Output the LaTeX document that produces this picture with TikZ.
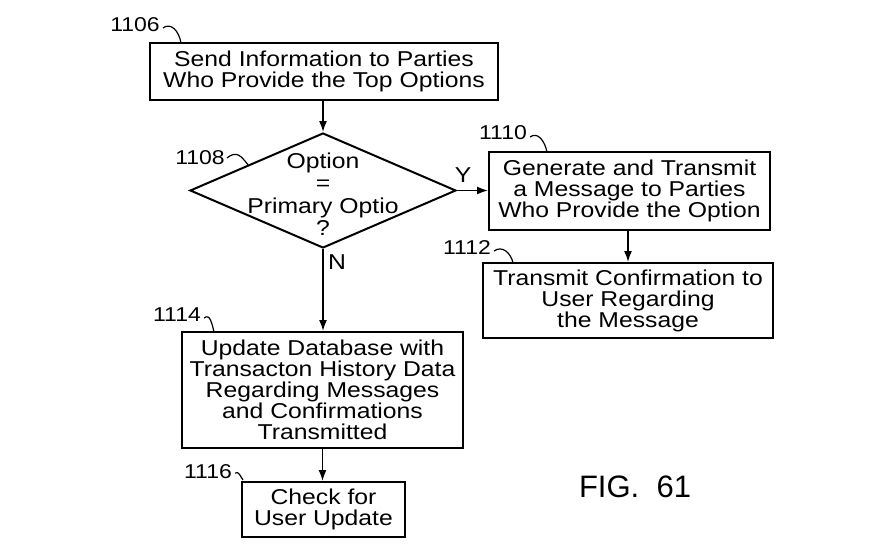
\documentclass[tikz,border=0pt]{standalone}
\usepackage{fontspec}
\setmainfont[FakeStretch=1.15]{Liberation Sans}
\newfontfamily\figfont{Liberation Sans}
\usetikzlibrary{shapes.geometric,arrows.meta,calc}
\begin{document}
\begin{tikzpicture}[x=1pt,y=-1pt,
  box/.style={draw,line width=2pt,inner sep=0pt,align=center,font=\fontsize{21.5}{21}\selectfont},
  decision/.style={draw,diamond,line width=2pt,inner sep=0pt,minimum width=266pt,minimum height=115pt},
  dtext/.style={align=center,inner sep=0pt,font=\fontsize{21.5}{22.5}\selectfont},
  num/.style={inner sep=0pt,font=\fontsize{20}{20}\selectfont},
  yn/.style={inner sep=0pt,font=\fontsize{21.5}{21.5}\selectfont},
  arr/.style={line width=1.6pt,-{Latex[length=11pt,width=8pt]}},
  hook/.style={line width=1.2pt}]
\useasboundingbox (0,0) rectangle (872,551);
\fill[white] (0,0) rectangle (872,551);

\node[box,minimum width=348pt,minimum height=57pt] (b1106) at (324,71.5) {Send Information to Parties\\Who Provide the Top Options};
\node[decision] (d1108) at (323,190.5) {};
\node[dtext] (t1108) at (323,194) {Option\\=\\Primary Optio\\?};
\node[box,minimum width=281pt,minimum height=78pt] (b1110) at (629.5,191) {Generate and Transmit\\a Message to Parties\\Who Provide the Option};
\node[box,minimum width=290pt,minimum height=75pt] (b1112) at (628,300.5) {Transmit Confirmation to\\User Regarding\\the Message};
\node[box,minimum width=281pt,minimum height=116pt] (b1114) at (322.5,390) {Update Database with\\Transacton History Data\\Regarding Messages\\and Confirmations\\Transmitted};
\node[box,minimum width=163pt,minimum height=55pt] (b1116) at (323.5,509.5) {Check for\\User Update};

\node[num] (l1106) at (135,25) {1106};
\node[num] (l1108) at (200,158) {1108};
\node[num] (l1110) at (503,133) {1110};
\node[num] (l1112) at (467,248) {1112};
\node[num] (l1114) at (177,315) {1114};
\node[num] (l1116) at (208,472) {1116};
\node[inner sep=0pt,font=\figfont\fontsize{31}{31}\selectfont] (fig) at (635,487) {FIG.\ \ 61};

\node[yn] (ly) at (463,175) {Y};
\node[yn] (ln) at (337,262) {N};

\draw[arr] (d1108.north |- b1106.south) -- (d1108.north);
\draw[arr] (d1108.east) -- (d1108.east -| b1110.west);
\draw[arr] (b1110.south -| b1112.north) -- (b1112.north);
\draw[arr] (d1108.south) -- (d1108.south |- b1114.north);
\draw[arr] (b1114.south) -- (b1114.south |- b1116.north);

\coordinate (h1106) at (181,43);
\coordinate (h1108) at (249,166);
\coordinate (h1110) at (547,152);
\coordinate (h1112) at (513,263);
\coordinate (h1114) at (214,332);
\coordinate (h1116) at (243,480);
\draw[hook] ($(l1106.east)+(3,3)$) .. controls +(8,-6) and +(-2,-12) .. (h1106);
\draw[hook] ($(l1108.east)+(2,0)$) .. controls +(10,-8) and +(-8,-10) .. (h1108);
\draw[hook] ($(l1110.east)+(3,4)$) .. controls +(8,-6) and +(-2,-10) .. (h1110);
\draw[hook] ($(l1112.east)+(3,3)$) .. controls +(8,-6) and +(-2,-10) .. (h1112);
\draw[hook] ($(l1114.east)+(3,3)$) .. controls +(6,-5) and +(-2,-8) .. (h1114);
\draw[hook] ($(l1116.east)+(3,1)$) .. controls +(4,-2) and +(-3,-4) .. (h1116);
\end{tikzpicture}
\end{document}
